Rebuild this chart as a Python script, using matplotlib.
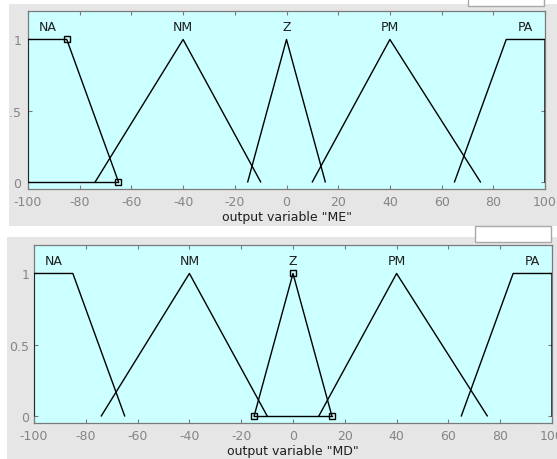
import matplotlib
matplotlib.use("Agg")
import matplotlib.pyplot as plt
from matplotlib.patches import Rectangle
import numpy as np

plt.rcParams['font.family'] = ['DejaVu Sans']
plt.rcParams['axes.unicode_minus'] = False

# ---- data ----
mf_names = ["NA", "NM", "Z", "PM", "PA"]
# MF parameters (trapmf for NA/PA, trimf for others)
na_params = [-100, -100, -85, -65]
nm_params = [-74, -40, -10]
z_params = [-15, 0, 15]
pm_params = [10, 40, 75]
pa_params = [65, 85, 100, 100]
variables = ["ME", "MD"]
selected = ["NA", "Z"]          # highlighted MF in each panel
x_ticks = [-100, -80, -60, -40, -20, 0, 20, 40, 60, 80, 100]
y_ticks = [0, 0.5, 1]
y_ticklabels = ["0", "0.5", "1"]

W, H = 557, 460
fig = plt.figure(figsize=(W / 100, H / 100), dpi=100)
fig.patch.set_facecolor("white")

GREY = "#e6e6e6"
CYAN = "#ccffff"
AXC = "#7a7a7a"
TXT = "#1e1e1e"


def frect(x0, y0, x1, y1, **kw):
    r = Rectangle((x0 / W, 1 - y1 / H), (x1 - x0) / W, (y1 - y0) / H,
                  transform=fig.transFigure, **kw)
    fig.patches.append(r)
    return r


# grey panels
frect(7, 5, W, 227, facecolor=GREY, edgecolor="none", zorder=-5)
frect(7, 238, W, H, facecolor=GREY, edgecolor="none", zorder=-5)
# little white boxes at top right of each panel
frect(468, -2, 544, 7, facecolor="white", edgecolor="#a8a8a8", lw=1.0, zorder=-4)
frect(475, 227, 551, 243, facecolor="white", edgecolor="#a8a8a8", lw=1.0, zorder=-4)


def mf_xy(params):
    if len(params) == 4:
        a, b, c, d = params
        return [a, b, c, d], [0, 1, 1, 0]
    a, b, c = params
    return [a, b, c], [0, 1, 0]


all_params = dict(zip(mf_names, [na_params, nm_params, z_params, pm_params, pa_params]))

axes_px = [(28, 12, 545, 190), (34, 246, 552, 424)]
ypads = [5.0, 3.5]

for i, var in enumerate(variables):
    x0, y0, x1, y1 = axes_px[i]
    ax = fig.add_axes([x0 / W, 1 - y1 / H, (x1 - x0) / W, (y1 - y0) / H])
    ax.set_facecolor(CYAN)
    ax.set_xlim(-100, 100)
    ax.set_ylim(-0.05, 1.2)
    for name in mf_names:
        p = all_params[name]
        xs, ys = mf_xy(p)
        ax.plot(xs, ys, color="black", lw=1.0, zorder=3, clip_on=True)
        # label
        if len(p) == 4:
            lx = (p[1] + p[2]) / 2.0 if name != "NA" else (p[0] + p[2]) / 2.0
            if name == "PA":
                lx = (p[1] + p[3]) / 2.0
        else:
            lx = p[1]
        ax.text(lx, 1.07, name, ha="center", va="baseline", fontsize=9, color=TXT)
        if name == selected[i]:
            xs_s, ys_s = mf_xy(p)
            # bottom closing line
            ax.plot([xs_s[0], xs_s[-1]], [0, 0], color="black", lw=1.0, zorder=3)
            mx = [xx for xx in xs_s if -100 < xx < 100]
            my = [yy for xx, yy in zip(xs_s, ys_s) if -100 < xx < 100]
            ax.plot(mx, my, ls="none", marker="s", ms=5, mfc="none",
                    mec="black", mew=1.0, zorder=4)
    ax.set_xticks(x_ticks)
    ax.set_yticks(y_ticks)
    ax.set_yticklabels(y_ticklabels)
    ax.tick_params(axis="both", direction="in", length=3, width=0.8,
                   colors=AXC, labelcolor="#858585", labelsize=9,
                   top=True, right=True)
    ax.tick_params(axis="y", pad=ypads[i])
    ax.tick_params(axis="x", pad=4)
    for s in ax.spines.values():
        s.set_color(AXC)
        s.set_linewidth(0.9)
    ax.set_xlabel('output variable "%s"' % var, fontsize=9, color=TXT, labelpad=1.5)

# white strip cropping the left edge of the top panel
frect(0, 0, 9, 228, facecolor="white", edgecolor="none", zorder=10)

fig.savefig("out.png", dpi=100, facecolor=fig.get_facecolor())
